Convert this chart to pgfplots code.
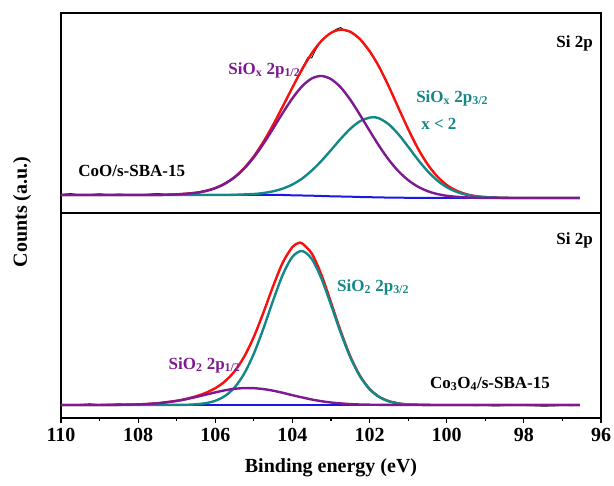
\documentclass[border=0pt]{standalone}
\usepackage{fontspec}
\setmainfont{Liberation Serif}
\usepackage{pgfplots}
\pgfplotsset{compat=1.18}
\definecolor{cred}{RGB}{250,15,15}
\definecolor{cpur}{RGB}{125,25,145}
\definecolor{cteal}{RGB}{20,135,135}
\definecolor{cblue}{RGB}{25,25,230}
\newcommand{\lab}{\fontsize{17bp}{20bp}\bfseries\selectfont}
\begin{document}
\begin{tikzpicture}[x=1bp,y=1bp]
\useasboundingbox (0,0) rectangle (614,486);
\pgfplotsset{
  panel/.style={
    anchor=south west, scale only axis, width=540bp,
    xmin=96, xmax=110, x dir=reverse, ymin=0,
    ytick=\empty,
    axis line style={line width=1.4bp, black},
    every axis plot/.append style={line join=round},
  },
  raw/.style={black, line width=0.8bp},
  fit/.style={line width=2.4bp, smooth},
}
% ---------------- top panel ----------------
\begin{axis}[panel, at={(61bp,273bp)}, height=200bp, ymax=200, xtick=\empty]
\addplot[raw] coordinates {
(110,18.5)(109.75,19.5)(109.5,18.0)(109.25,18.4)(109,19.3)(108.75,18.2)(108.5,19.0)(108.25,18.3)
(108,18.1)(107.75,18.8)(107.5,19.6)(107.25,18.5)(107,18.9)(106.75,19.3)(106.5,20.6)(106.25,22.5)
(106,24.6)(105.75,29.9)(105.5,35.4)(105.25,45.6)(105,56.2)(104.75,72.0)(104.5,88.0)(104.25,107.2)
(104,126.0)(103.75,145.0)(103.6,155.5)(103.5,155.0)(103.4,163.0)(103.25,172.5)(103,180.5)
(102.85,184.0)(102.75,185.5)(102.65,182.5)(102.5,181.0)(102.25,173.5)(102,161.0)(101.75,146.8)
(101.5,127.5)(101.25,104.5)(101,83.0)(100.75,64.0)(100.5,49.6)(100.25,36.5)(100,27.5)(99.75,21.6)
(99.5,18.2)(99.25,16.5)(99,15.4)(98.75,15.9)(98.5,14.6)(98.25,15.3)(98,14.8)(97.75,15.6)
(97.5,14.7)(97.25,15.2)(97,15.5)(96.75,14.9)(96.55,15.2)};
\addplot[fit, cblue, line width=2bp] coordinates {
(110,18)(104.5,18)(104.25,17.9)(104,17.7)(103.75,17.5)(103.5,17.3)(103.25,17.0)(103,16.7)
(102.75,16.5)(102.5,16.3)(102.25,16.0)(102,15.8)(101.75,15.6)(101.5,15.4)(101.25,15.3)(101,15.2)
(100.75,15.1)(100.5,15)(96.55,15)};
\addplot[fit, cred] coordinates {
(110,18)(109,18)(108,18.0)(107.5,18.1)(107,18.6)(106.5,20.2)(106.25,22.0)(106,24.9)(105.75,29.4)
(105.5,35.9)(105.25,44.9)(105,56.7)(104.75,71.3)(104.5,88.2)(104.25,106.6)(104,125.5)(103.75,143.6)
(103.5,159.6)(103.25,172.0)(103,180.1)(102.75,183.3)(102.5,181.2)(102.25,173.9)(102,161.9)
(101.75,145.9)(101.5,126.3)(101.25,105.0)(101,84.0)(100.75,64.8)(100.5,48.9)(100.25,36.7)(100,28.0)
(99.75,22.4)(99.5,18.9)(99.25,16.9)(99,15.9)(98.5,15.1)(98,15)(97,15)(96.55,15)};
\addplot[fit, cteal] coordinates {
(110,18)(106,18.0)(105.5,18.2)(105,19.0)(104.75,20.0)(104.5,21.7)(104.25,24.4)(104,28.5)
(103.75,34.4)(103.5,42.4)(103.25,52.0)(103,62.9)(102.75,74.1)(102.5,84.2)(102.25,91.7)(102,95.4)
(101.9,95.8)(101.75,94.6)(101.5,88.6)(101.25,78.6)(101,66.3)(100.75,53.5)(100.5,42.0)(100.25,32.7)
(100,25.8)(99.75,21.2)(99.5,18.3)(99.25,16.6)(99,15.8)(98.5,15.1)(98,15)(96.55,15)};
\addplot[fit, cpur] coordinates {
(110,18)(109,18)(108,18.0)(107.5,18.1)(107,18.6)(106.5,20.2)(106.25,22.0)(106,24.9)(105.75,29.3)
(105.5,35.7)(105.25,44.4)(105,55.7)(104.75,69.3)(104.5,84.5)(104.25,100.1)(104,114.7)(103.75,126.7)
(103.5,134.5)(103.25,137.0)(103,133.9)(102.75,125.7)(102.5,113.3)(102.25,98.2)(102,82.3)
(101.75,66.9)(101.5,53.1)(101.25,41.7)(101,32.9)(100.75,26.4)(100.5,21.9)(100.25,19.0)(100,17.2)
(99.75,16.2)(99.5,15.6)(99,15.1)(98,15)(96.55,15)};
\node[anchor=east, font=\lab] at (axis cs:96.12,170) {Si 2p};
\node[anchor=west, font=\lab, text=cpur] at (axis cs:105.75,143) {SiO\textsubscript{x} 2p\textsubscript{1/2}};
\node[anchor=west, font=\lab, text=cteal] at (axis cs:100.88,115) {SiO\textsubscript{x} 2p\textsubscript{3/2}};
\node[anchor=west, font=\lab, text=cteal] at (axis cs:100.75,89) {x < 2};
\node[anchor=west, font=\lab] at (axis cs:109.64,42) {CoO/s-SBA-15};
\end{axis}
% ---------------- bottom panel ----------------
\begin{axis}[panel, at={(61bp,68bp)}, height=205bp, ymax=205,
  xtick={96,98,...,110}, minor xtick={97,99,...,109},
  xtick pos=left, tick align=outside,
  major tick length=5bp, minor tick length=3bp,
  tick style={line width=1.2bp, black},
  /pgf/number format/assume math mode=true,
  xticklabel style={font=\fontsize{20bp}{23bp}\bfseries\selectfont, yshift=-2bp},
]
\addplot[raw] coordinates {
(110,13.5)(109.75,13.0)(109.5,13.6)(109.25,14.2)(109,13.4)(108.75,13.3)(108.5,14.3)(108.25,13.4)
(108,13.9)(107.75,14.5)(107.5,14.9)(107.25,15.6)(107,17.4)(106.75,19.5)(106.5,21.4)(106.25,25.5)
(106,29.4)(105.75,37.2)(105.5,46.2)(105.25,61.8)(105,81.0)(104.75,106.5)(104.5,131.5)(104.25,155.0)
(104,171.5)(103.85,175.5)(103.75,175.0)(103.5,164.0)(103.25,143.0)(103,115.2)(102.75,87.4)
(102.5,61.4)(102.25,42.6)(102,29.0)(101.75,21.6)(101.5,17.1)(101.25,15.0)(101,13.5)(100.75,13.2)
(100.5,12.8)(100.25,13.1)(100,12.9)(99.75,12.5)(99.5,12.7)(99.25,12.3)(99,12.6)(98.75,11.9)
(98.5,12.4)(98.25,12.8)(98,12.5)(97.75,12.2)(97.5,11.8)(97.25,12.0)(97,12.6)(96.75,12.3)(96.55,12.8)};
\addplot[fit, cblue, line width=2bp] coordinates {(110,13)(96.55,13)};
\addplot[fit, cred] coordinates {
(110,13)(109.5,13.0)(109,13.04)(108.5,13.16)(108,13.6)(107.5,14.7)(107,17.2)(106.75,19.1)(106.5,21.7)
(106.25,25.1)(106,29.8)(105.75,36.6)(105.5,46.7)(105.25,61.3)(105,81.2)(104.75,105.6)(104.5,131.9)
(104.25,155.5)(104,171.0)(103.85,174.8)(103.75,174.6)(103.5,164.6)(103.25,143.4)(103,115.6)(102.75,87.0)
(102.5,61.7)(102.25,42.3)(102,29.1)(101.75,21.1)(101.5,16.8)(101.25,14.5)(101,13.6)(100.5,13.1)
(100,13)(96.55,13)};
\addplot[fit, cteal] coordinates {
(110,13)(107,13.1)(106.75,13.2)(106.5,13.7)(106.25,14.8)(106,17.2)(105.75,22.0)(105.5,30.5)
(105.25,44.4)(105,64.4)(104.75,89.7)(104.5,117.6)(104.25,143.3)(104,161.2)(103.75,167.0)
(103.5,159.1)(103.25,139.6)(103,113.1)(102.75,85.4)(102.5,60.8)(102.25,41.8)(102,28.8)(101.75,21.0)
(101.5,16.7)(101.25,14.5)(101,13.6)(100.5,13.1)(100,13)(96.55,13)};
\addplot[fit, cpur] coordinates {
(110,13)(109,13.0)(108.5,13.2)(108,13.6)(107.5,14.7)(107,17.1)(106.75,18.9)(106.5,21.0)(106.25,23.3)
(106,25.6)(105.75,27.7)(105.5,29.2)(105.25,29.9)(105,29.8)(104.75,28.9)(104.5,27.3)(104.25,25.2)
(104,22.8)(103.75,20.6)(103.5,18.5)(103.25,16.8)(103,15.5)(102.75,14.6)(102.5,13.9)(102.25,13.5)
(102,13.3)(101.5,13.1)(101,13.0)(96.55,13)};
\node[anchor=east, font=\lab] at (axis cs:96.12,178) {Si 2p};
\node[anchor=west, font=\lab, text=cteal] at (axis cs:102.93,131) {SiO\textsubscript{2} 2p\textsubscript{3/2}};
\node[anchor=west, font=\lab, text=cpur] at (axis cs:107.3,53) {SiO\textsubscript{2} 2p\textsubscript{1/2}};
\node[anchor=west, font=\lab] at (axis cs:100.52,34) {Co\textsubscript{3}O\textsubscript{4}/s-SBA-15};
\end{axis}
\node[rotate=90, font=\fontsize{20bp}{24bp}\bfseries\selectfont] at (22,274) {Counts (a.u.)};
\node[font=\fontsize{20bp}{24bp}\bfseries\selectfont] at (331,18) {Binding energy (eV)};
\end{tikzpicture}
\end{document}
